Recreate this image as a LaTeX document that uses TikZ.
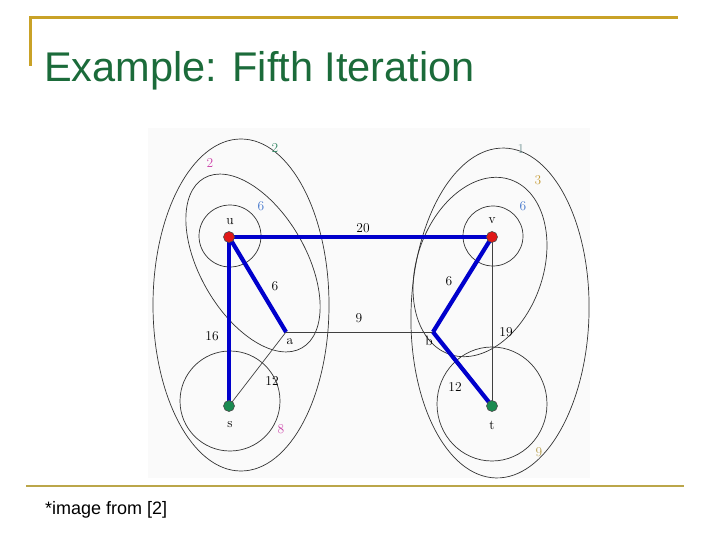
\documentclass[tikz,border=0pt]{standalone}
\usepackage{fontspec}
\newfontfamily\arialf{Liberation Sans}
\pgfdeclarelayer{bg}
\pgfdeclarelayer{edges}
\pgfsetlayers{bg,edges,main}
\definecolor{titlegreen}{HTML}{1B6B3A}
\definecolor{goldline}{HTML}{C9A227}
\definecolor{khaki}{HTML}{BBA64A}
\definecolor{edgeblue}{HTML}{0000CC}
\definecolor{dotred}{HTML}{E01818}
\definecolor{dotgreen}{HTML}{1A8A50}
\definecolor{lblmagenta}{HTML}{CC44AA}
\definecolor{lblteal}{HTML}{3A8A6A}
\definecolor{lblblue}{HTML}{4477CC}
\definecolor{lblgray}{HTML}{7A9A9A}
\definecolor{lblgold}{HTML}{C8A040}
\definecolor{lblolive}{HTML}{B8A050}
\tikzset{
  vdot/.style={circle, draw=black!70, line width=0.6pt, minimum size=11pt, inner sep=0pt},
  cut/.style={draw=black!80, line width=0.7pt},
  thinedge/.style={draw=black!75, line width=0.7pt},
  blueedge/.style={draw=edgeblue, line width=4.2pt},
  lbl/.style={font=\fontsize{13.5}{13.5}\selectfont, inner sep=0pt, text=black},
}
\begin{document}
\begin{tikzpicture}[x=1pt, y=-1pt]
\useasboundingbox (0,0) rectangle (720,540);
% nodes
\node[vdot, fill=dotred] (u) at (229,237) {};
\node[vdot, fill=dotred] (v) at (492,237) {};
\node[vdot, fill=dotgreen] (s) at (229,406) {};
\node[vdot, fill=dotgreen] (t) at (492,406) {};
\coordinate (a) at (286,332);
\coordinate (b) at (433,332);
\begin{pgfonlayer}{bg}
\fill[white] (0,0) rectangle (720,540);
\fill[black!2] (148,128) rectangle (590,478);
% cuts
\draw[cut] (241,305) ellipse [x radius=88pt, y radius=166pt];
\draw[cut, rotate around={-1.5:(500,313)}] (500,313) ellipse [x radius=89pt, y radius=165pt];
\draw[cut, rotate around={-60:(253,263)}] (253,263) ellipse [x radius=98pt, y radius=53pt];
\draw[cut, rotate around={70.4:(480,267)}] (480,267) ellipse [x radius=92.5pt, y radius=63pt];
\draw[cut] (230,236) circle [radius=31pt];
\draw[cut] (493,236) circle [radius=30pt];
\draw[cut] (230,401) circle [radius=50pt];
\draw[cut] (492,404) ellipse [x radius=55pt, y radius=57pt];
\end{pgfonlayer}
\begin{pgfonlayer}{edges}
\draw[thinedge] (a) -- (b);
\draw[thinedge] (v.center) -- (t.center);
\draw[thinedge] (s.center) -- (a);
\draw[blueedge] (u.center) -- (s.center);
\draw[blueedge] (u.center) -- (v.center);
\draw[blueedge] (u.center) -- (a);
\draw[blueedge] (v.center) -- (b);
\draw[blueedge] (b) -- (t.center);
\end{pgfonlayer}
% slide decoration
\draw[goldline, line width=3pt] (30,66) -- (30,18) -- (678,18);
\draw[khaki, line width=2.2pt] (26,486) -- (684,486);
\node[anchor=base west, inner sep=0pt, text=titlegreen, font=\arialf\fontsize{41.5}{41.5}\selectfont] (title) at (44,82) {Example: Fifth Iteration};
\node[anchor=base west, inner sep=0pt, font=\arialf\fontsize{18}{18}\selectfont] (credit) at (45,514) {*image from [2]};
% node labels
\node[lbl] (lu) at (230,222) {u};
\node[lbl] (lv) at (492,221) {v};
\node[lbl] (la) at (290,342) {a};
\node[lbl] (lb) at (429,341) {b};
\node[lbl] (ls) at (230,425) {s};
\node[lbl] (lt) at (492,425) {t};
% edge labels
\node[lbl] (w20) at (363,228) {20};
\node[lbl] (w6a) at (275,286) {6};
\node[lbl] (w6b) at (449,281) {6};
\node[lbl] (w9) at (359,318) {9};
\node[lbl] (w16) at (212,336) {16};
\node[lbl] (w12a) at (272,381) {12};
\node[lbl] (w19) at (506,332) {19};
\node[lbl] (w12b) at (455,387) {12};
% cut labels
\node[lbl, text=lblmagenta] (c2a) at (210,163) {2};
\node[lbl, text=lblteal] (c2b) at (275,148) {2};
\node[lbl, text=lblblue] (c6a) at (261,206) {6};
\node[lbl, text=lblgray] (c1) at (521,149) {1};
\node[lbl, text=lblgold] (c3) at (538,180) {3};
\node[lbl, text=lblblue] (c6b) at (523,206) {6};
\node[lbl, text=lblmagenta] (c8) at (281,429) {8};
\node[lbl, text=lblolive] (c9) at (539,452) {9};
\end{tikzpicture}
\end{document}
